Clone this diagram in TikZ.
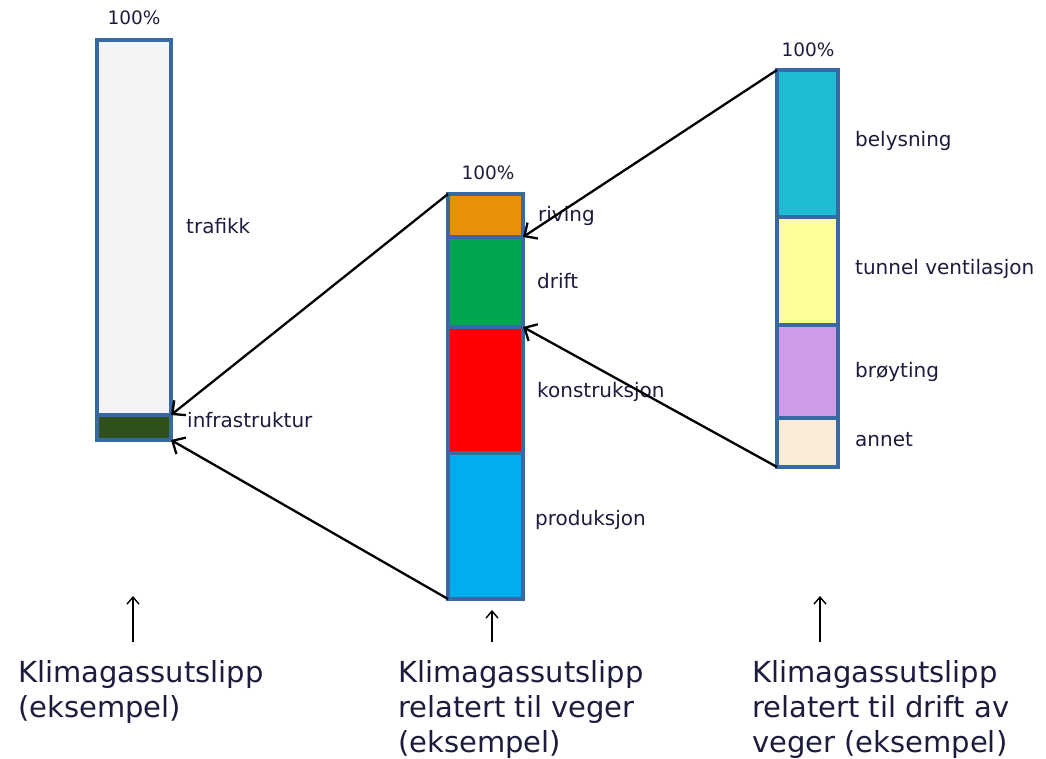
\documentclass[tikz,border=0pt]{standalone}
\usepackage{fontspec}
\setmainfont{DejaVu Sans}
\usetikzlibrary{arrows.meta}
\definecolor{barblue}{RGB}{55,105,165}
\definecolor{labtxt}{RGB}{28,28,60}
\definecolor{trafikkC}{RGB}{244,244,246}
\definecolor{infraC}{RGB}{48,80,28}
\definecolor{rivingC}{RGB}{232,144,10}
\definecolor{driftC}{RGB}{0,166,80}
\definecolor{konsC}{RGB}{255,0,0}
\definecolor{prodC}{RGB}{0,174,239}
\definecolor{belC}{RGB}{30,189,212}
\definecolor{tunC}{RGB}{255,255,153}
\definecolor{broC}{RGB}{208,155,232}
\definecolor{annC}{RGB}{248,236,214}
\begin{document}
\begin{tikzpicture}[x=1pt,y=-1pt,
  seg/.style={draw=barblue,line width=3.4pt,inner sep=0pt,outer sep=0pt,anchor=north west},
  lab/.style={anchor=base west,inner sep=0pt,text=labtxt,font=\fontsize{20}{24}\selectfont},
  pct/.style={anchor=base,inner sep=0pt,text=labtxt,font=\fontsize{18.5}{22}\selectfont},
  link/.style={line width=2.3pt,-{Straight Barb[length=10pt,width=19pt,line width=2.3pt]}},
  uparr/.style={line width=1.4pt,-{Straight Barb[length=7pt,width=12pt,line width=1.4pt]}},
  captxt/.style={anchor=north west,align=left,inner sep=0pt,text=labtxt,font=\fontsize{29}{35}\selectfont}]
\useasboundingbox (0,0) rectangle (1046,759);
% left bar
\node[seg,fill=trafikkC,minimum width=74pt,minimum height=375pt] (traf) at (97,40) {};
\node[seg,fill=infraC,minimum width=74pt,minimum height=25pt] (infra) at (97,415) {};
\node[pct] (p1) at (134,25) {100\%};
\node[lab] (ltraf) at (186,234) {trafikk};
\node[lab] (linfra) at (187,427) {infrastruktur};
% middle bar
\node[seg,fill=rivingC,minimum width=75pt,minimum height=43pt] (riv) at (448,194) {};
\node[seg,fill=driftC,minimum width=75pt,minimum height=90pt] (drift) at (448,237) {};
\node[seg,fill=konsC,minimum width=75pt,minimum height=126pt] (kons) at (448,327) {};
\node[seg,fill=prodC,minimum width=75pt,minimum height=146pt] (prod) at (448,453) {};
\node[pct] (p2) at (488,180) {100\%};
\node[lab] (lriv) at (538,222) {riving};
\node[lab] (ldrift) at (537,288) {drift};
\node[lab] (lkons) at (537,397) {konstruksjon};
\node[lab] (lprod) at (535,525) {produksjon};
% right bar
\node[seg,fill=belC,minimum width=61pt,minimum height=147pt] (bel) at (777,70) {};
\node[seg,fill=tunC,minimum width=61pt,minimum height=108pt] (tun) at (777,217) {};
\node[seg,fill=broC,minimum width=61pt,minimum height=93pt] (bro) at (777,325) {};
\node[seg,fill=annC,minimum width=61pt,minimum height=49pt] (ann) at (777,418) {};
\node[pct] (p3) at (808,57) {100\%};
\node[lab] (lbel) at (855,147) {belysning};
\node[lab] (ltun) at (855,275) {tunnel ventilasjon};
\node[lab] (lbro) at (855,377) {brøyting};
\node[lab] (lann) at (855,446) {annet};
% links
\draw[link] (riv.north west) -- (infra.north east);
\draw[link] (prod.south west) -- (infra.south east);
\draw[link] (bel.north west) -- (drift.north east);
\draw[link] (ann.south west) -- (kons.north east);
% captions
\node[captxt] (c1) at (18,660) {Klimagassutslipp\\(eksempel)};
\node[captxt] (c2) at (398,660) {Klimagassutslipp\\relatert til veger\\(eksempel)};
\node[captxt] (c3) at (752,660) {Klimagassutslipp\\relatert til drift av\\veger (eksempel)};
\coordinate (a1) at (133,596);
\coordinate (a2) at (492,610);
\coordinate (a3) at (820,596);
\draw[uparr] (133,642) -- (a1);
\draw[uparr] (492,642) -- (a2);
\draw[uparr] (820,642) -- (a3);
\end{tikzpicture}
\end{document}
